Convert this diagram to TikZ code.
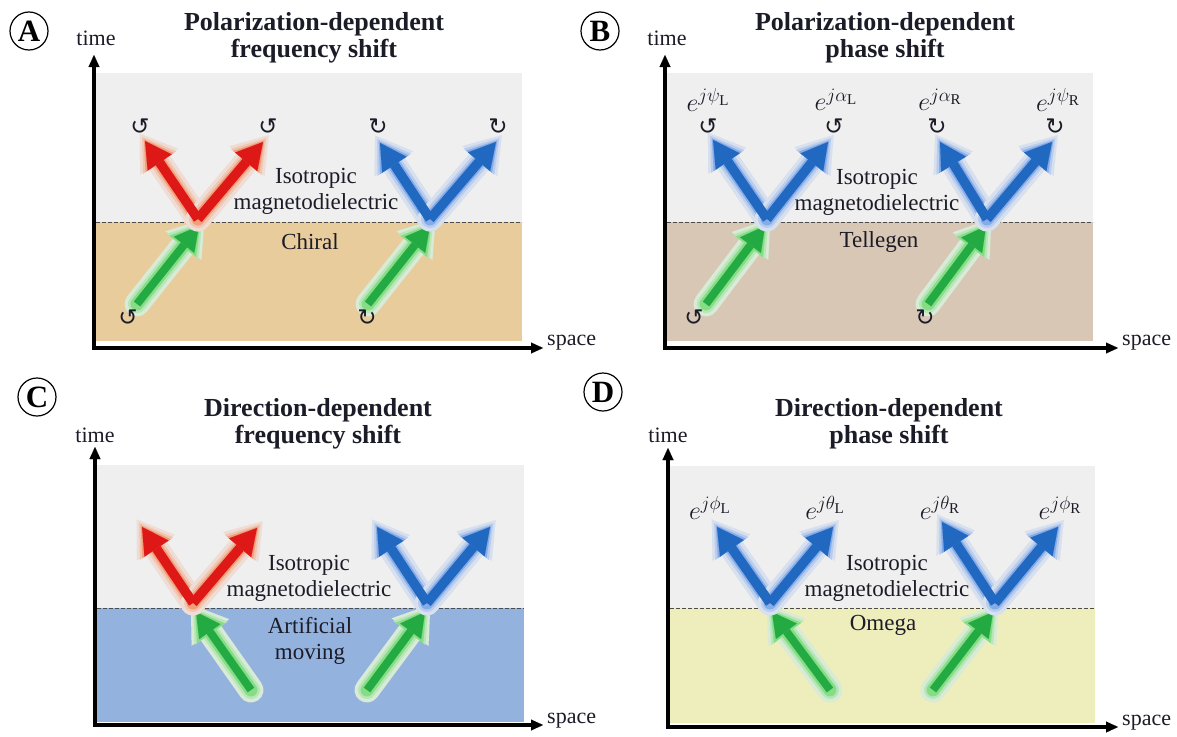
\RequirePackage{fix-cm}
\documentclass[tikz,border=0pt]{standalone}
\usepackage{fontspec}
\setmainfont{Liberation Serif}
\newfontfamily\symf{DejaVu Sans}
\usetikzlibrary{arrows.meta}

\definecolor{bgg}{RGB}{239,239,239}
\definecolor{tanA}{RGB}{232,204,156}
\definecolor{tanB}{RGB}{216,199,180}
\definecolor{bluC}{RGB}{148,178,222}
\definecolor{yelD}{RGB}{238,237,188}
\definecolor{redM}{RGB}{222,24,22}
\definecolor{redG}{RGB}{240,110,50}
\definecolor{bluM}{RGB}{32,104,192}
\definecolor{bluG}{RGB}{70,130,230}
\definecolor{grnM}{RGB}{36,170,66}
\definecolor{grnG}{RGB}{70,210,70}
\definecolor{ink}{RGB}{28,28,40}

\tikzset{
  axisln/.style={line width=3.5pt, line cap=rect, -{Triangle[length=12pt,width=11pt,line width=0.01pt]}},
  sepline/.style={line width=1pt, dash pattern=on 3.5pt off 2.5pt, black!70},
  ttl/.style={font=\fontsize{26}{27}\selectfont\bfseries, text=ink, align=center},
  txt/.style={font=\fontsize{23}{26}\selectfont, text=ink, align=center},
  axlab/.style={font=\fontsize{22}{22}\selectfont, text=ink},
  lbl/.style={circle, draw, line width=1.2pt, minimum size=38pt, inner sep=0pt, font=\fontsize{31}{31}\selectfont\bfseries},
  rot/.style={font=\symf\fontsize{23}{23}\selectfont, text=ink, inner sep=0pt},
  phs/.style={font=\fontsize{26}{26}\selectfont, inner sep=0pt, text=ink},
  glowA/.style={line width=25pt, line cap=round, shorten >=-9pt, -{Triangle[length=34pt,width=46pt,line width=0.01pt]}},
  glowB/.style={line width=18pt, line cap=round, shorten >=-5pt, -{Triangle[length=31pt,width=40pt,line width=0.01pt]}},
  glowC/.style={line width=13pt, line cap=round, shorten >=-2pt, -{Triangle[length=28pt,width=34pt,line width=0.01pt]}},
  mainray/.style={line width=9.5pt, -{Triangle[length=26pt,width=29pt,line width=0.01pt]}},
  gmainray/.style={line width=8pt, -{Triangle[length=24pt,width=26pt,line width=0.01pt]}},
}

% glow of one ray: from, to, glow colour
\newcommand\rayglow[3]{%
  \draw[glowA, #3!14!bgg] (#1) -- (#2);
  \draw[glowB, #3!32!bgg] (#1) -- (#2);
  \draw[glowC, #3!62!bgg] (#1) -- (#2);
}
% V of two rays: vertex, left tip, right tip, main colour, glow colour
\newcommand\vray[5]{%
  \rayglow{#1}{#2}{#5}\rayglow{#1}{#3}{#5}%
  \draw[mainray, #4] (#1) -- (#2);
  \draw[mainray, #4] (#1) -- (#3);
}
% incident green ray: tail, head
\newcommand\gray[2]{%
  \rayglow{#1}{#2}{grnG}%
  \draw[gmainray, grnM] (#1) -- (#2);
}
\newcommand\phz[2]{$e^{\mbox{\fontsize{19}{19}\selectfont$j#1_{\mbox{\fontsize{15}{15}\selectfont#2}}$}}$}

\begin{document}
\begin{tikzpicture}[x=1pt,y=-1pt]
\useasboundingbox (0,0) rectangle (1177,736);
\fill[white] (0,0) rectangle (1177,736);

% ================= Panel A =================
\fill[bgg] (96,73) rectangle (522,222);
\fill[tanA] (96,222) rectangle (522,341);
\coordinate (Asl) at (96,222); \coordinate (Asr) at (522,222);
\draw[sepline] (Asl) -- (Asr);
\coordinate (Av1) at (198,219); \coordinate (Al1) at (145,141); \coordinate (Ar1) at (263,142);
\coordinate (Av2) at (430,219); \coordinate (Al2) at (380,143); \coordinate (Ar2) at (496,142);
\coordinate (Ag1) at (137,304); \coordinate (Ah1) at (199,226);
\coordinate (Ag2) at (368,304); \coordinate (Ah2) at (430,226);
\gray{Ag1}{Ah1}\gray{Ag2}{Ah2}
\vray{Av1}{Al1}{Ar1}{redM}{redG}
\vray{Av2}{Al2}{Ar2}{bluM}{bluG}
\node[txt] (Aiso) at (316,191) {Isotropic\\magnetodielectric};
\node[txt] (Amat) at (310,242) {Chiral};
\node[rot] (Ar1a) at (140,127) {↺};
\node[rot] (Ar1b) at (268,127) {↺};
\node[rot] (Ar2a) at (378,127) {↻};
\node[rot] (Ar2b) at (498,127) {↻};
\node[rot] (Arg1) at (128,318) {↺};
\node[rot] (Arg2) at (367,318) {↻};
\coordinate (Ao) at (94,348); \coordinate (At) at (94,55); \coordinate (Ax) at (543,348);
\draw[axisln] (Ao) -- (At);
\draw[axisln] (Ao) -- (Ax);
\node[lbl] (Alab) at (29,31) {A};
\node[axlab] (Atime) at (96,38) {time};
\node[axlab, anchor=west, inner sep=0pt] (Aspace) at (547,343) {space};
\node[ttl] (Attl) at (314,38) {Polarization-dependent\\frequency shift};

% ================= Panel B =================
\fill[bgg] (667,73) rectangle (1093,222);
\fill[tanB] (667,222) rectangle (1093,341);
\coordinate (Bsl) at (667,222); \coordinate (Bsr) at (1093,222);
\draw[sepline] (Bsl) -- (Bsr);
\coordinate (Bv1) at (767,219); \coordinate (Bl1) at (713,140); \coordinate (Br1) at (828,142);
\coordinate (Bv2) at (987,219); \coordinate (Bl2) at (940,142); \coordinate (Br2) at (1052,142);
\coordinate (Bg1) at (706,304); \coordinate (Bh1) at (765,226);
\coordinate (Bg2) at (928,304); \coordinate (Bh2) at (986,226);
\gray{Bg1}{Bh1}\gray{Bg2}{Bh2}
\vray{Bv1}{Bl1}{Br1}{bluM}{bluG}
\vray{Bv2}{Bl2}{Br2}{bluM}{bluG}
\node[txt] (Biso) at (877,192) {Isotropic\\magnetodielectric};
\node[txt] (Bmat) at (879,242) {Tellegen};
\node[phs] (Bp1) at (708,100) {\phz{\psi}{L}};
\node[phs] (Bp2) at (836,100) {\phz{\alpha}{L}};
\node[phs] (Bp3) at (940,100) {\phz{\alpha}{R}};
\node[phs] (Bp4) at (1058,100) {\phz{\psi}{R}};
\node[rot] (Br1a) at (708,127) {↺};
\node[rot] (Br1b) at (834,127) {↺};
\node[rot] (Br2a) at (937,127) {↻};
\node[rot] (Br2b) at (1055,127) {↻};
\node[rot] (Brg1) at (694,318) {↺};
\node[rot] (Brg2) at (925,318) {↻};
\coordinate (Bo) at (665,348); \coordinate (Bt) at (665,55); \coordinate (Bx) at (1118,348);
\draw[axisln] (Bo) -- (Bt);
\draw[axisln] (Bo) -- (Bx);
\node[lbl] (Blab) at (600,31) {B};
\node[axlab] (Btime) at (667,38) {time};
\node[axlab, anchor=west, inner sep=0pt] (Bspace) at (1122,343) {space};
\node[ttl] (Bttl) at (885,38) {Polarization-dependent\\phase shift};

% ================= Panel C =================
\fill[bgg] (97,465) rectangle (524,608);
\fill[bluC] (97,608) rectangle (524,722);
\coordinate (Csl) at (97,608); \coordinate (Csr) at (524,608);
\draw[sepline] (Csl) -- (Csr);
\coordinate (Cv1) at (193,603); \coordinate (Cl1) at (142,527); \coordinate (Cr1) at (257,528);
\coordinate (Cv2) at (427,603); \coordinate (Cl2) at (377,527); \coordinate (Cr2) at (490,527);
\coordinate (Cg1) at (251,690); \coordinate (Ch1) at (196,612);
\coordinate (Cg2) at (367,690); \coordinate (Ch2) at (425,612);
\gray{Cg1}{Ch1}\gray{Cg2}{Ch2}
\vray{Cv1}{Cl1}{Cr1}{redM}{redG}
\vray{Cv2}{Cl2}{Cr2}{bluM}{bluG}
\node[txt] (Ciso) at (309,578) {Isotropic\\magnetodielectric};
\node[txt] (Cmat) at (310,641) {Artificial\\moving};
\coordinate (Co) at (95,725); \coordinate (Ct) at (95,447); \coordinate (Cx) at (543,725);
\draw[axisln] (Co) -- (Ct);
\draw[axisln] (Co) -- (Cx);
\node[lbl] (Clab) at (37,397) {C};
\node[axlab] (Ctime) at (95,435) {time};
\node[axlab, anchor=west, inner sep=0pt] (Cspace) at (547,721) {space};
\node[ttl] (Cttl) at (318,424) {Direction-dependent\\frequency shift};

% ================= Panel D =================
\fill[bgg] (670,466) rectangle (1095,608);
\fill[yelD] (670,608) rectangle (1095,723);
\coordinate (Dsl) at (670,608); \coordinate (Dsr) at (1095,608);
\draw[sepline] (Dsl) -- (Dsr);
\coordinate (Dv1) at (770,603); \coordinate (Dl1) at (717,527); \coordinate (Dr1) at (833,527);
\coordinate (Dv2) at (995,603); \coordinate (Dl2) at (942,522); \coordinate (Dr2) at (1058,527);
\coordinate (Dg1) at (830,690); \coordinate (Dh1) at (772,612);
\coordinate (Dg2) at (933,690); \coordinate (Dh2) at (993,612);
\gray{Dg1}{Dh1}\gray{Dg2}{Dh2}
\vray{Dv1}{Dl1}{Dr1}{bluM}{bluG}
\vray{Dv2}{Dl2}{Dr2}{bluM}{bluG}
\node[txt] (Diso) at (887,578) {Isotropic\\magnetodielectric};
\node[txt] (Dmat) at (883,625) {Omega};
\node[phs] (Dp1) at (710,508) {\phz{\phi}{L}};
\node[phs] (Dp2) at (825,508) {\phz{\theta}{L}};
\node[phs] (Dp3) at (940,508) {\phz{\theta}{R}};
\node[phs] (Dp4) at (1060,508) {\phz{\phi}{R}};
\coordinate (Do) at (668,727); \coordinate (Dt) at (668,448); \coordinate (Dx) at (1118,727);
\draw[axisln] (Do) -- (Dt);
\draw[axisln] (Do) -- (Dx);
\node[lbl] (Dlab) at (603,392) {D};
\node[axlab] (Dtime) at (668,435) {time};
\node[axlab, anchor=west, inner sep=0pt] (Dspace) at (1122,723) {space};
\node[ttl] (Dttl) at (889,424) {Direction-dependent\\phase shift};
\end{tikzpicture}
\end{document}
